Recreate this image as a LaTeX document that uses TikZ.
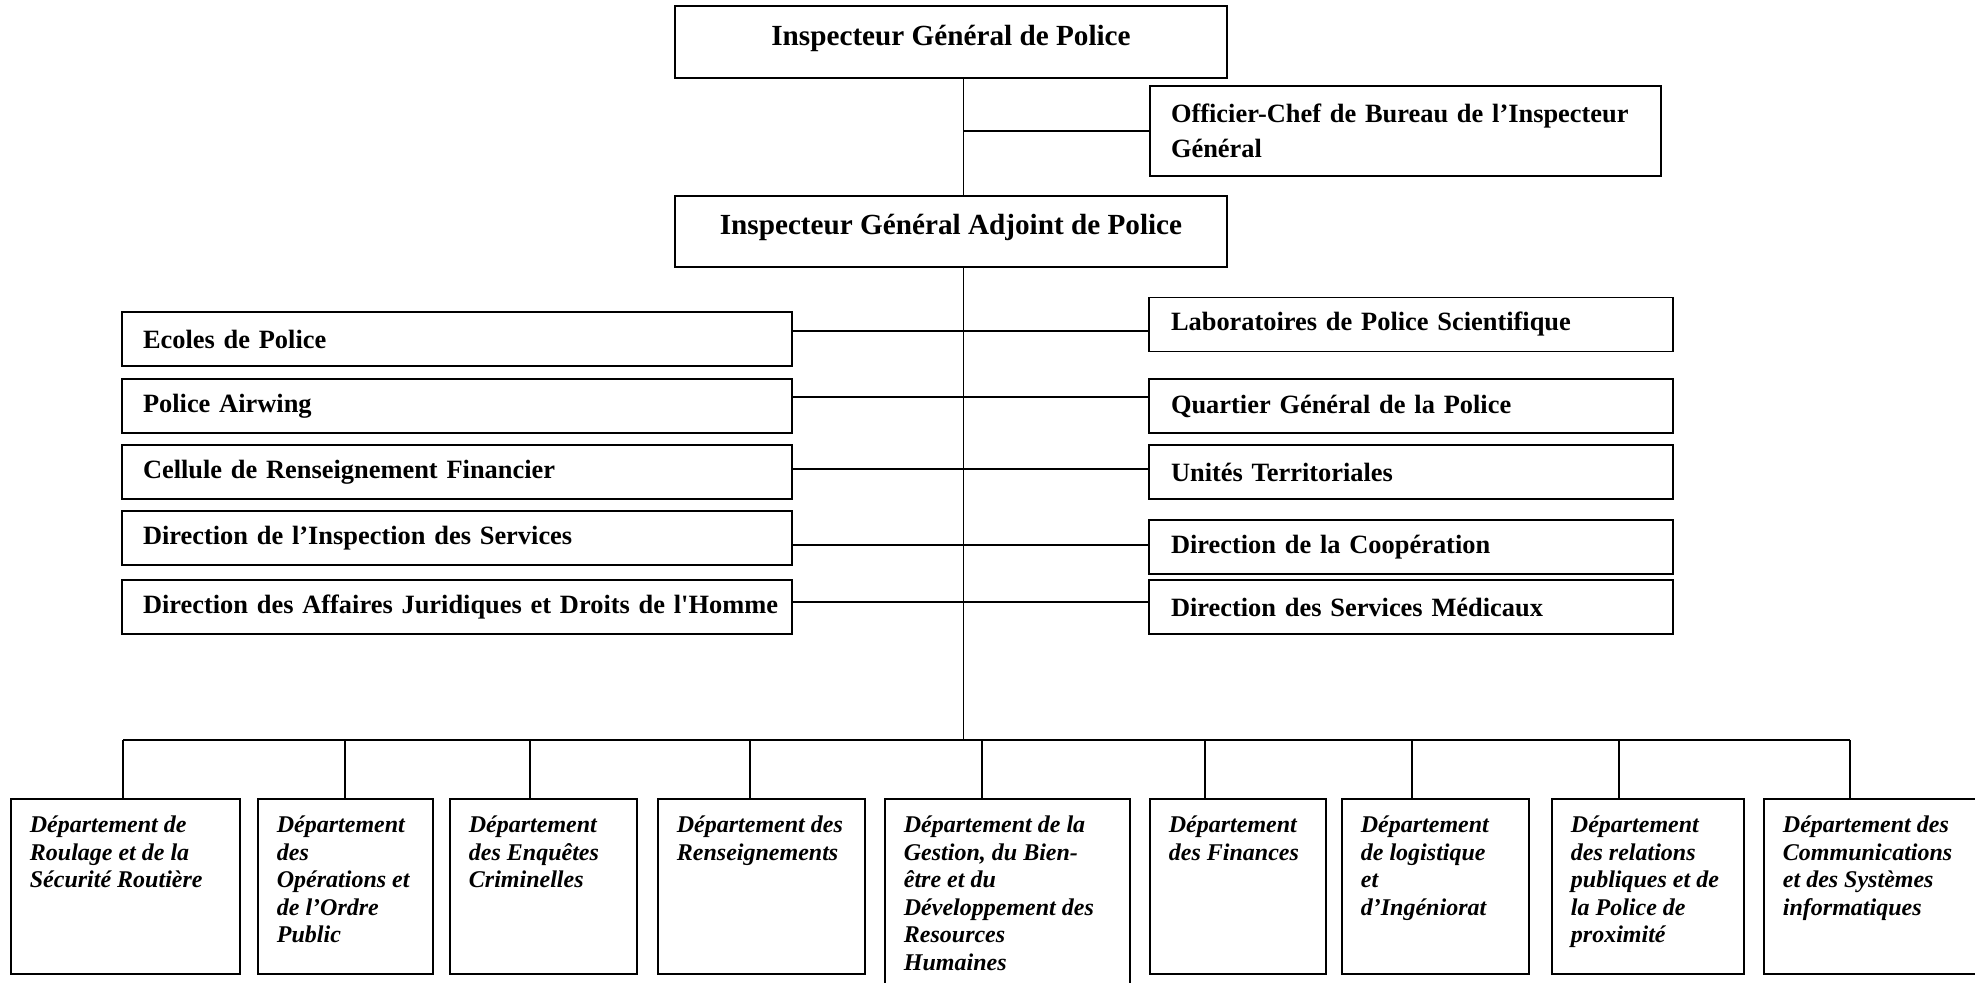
\documentclass[tikz,border=0pt]{standalone}
\usepackage{fontspec}
\setmainfont{Liberation Serif}[Ligatures=TeXOff]
\begin{document}
\begin{tikzpicture}[
    x=0.5pt, y=-0.5pt,
    chefbox/.style={draw, line width=0.9pt, minimum width=276pt, minimum height=36pt,
      inner sep=0pt, text depth=7pt, font=\fontsize{14.6}{17}\selectfont\bfseries},
    bureaubox/.style={draw, line width=0.9pt, minimum height=45pt, inner xsep=10.5pt,
      text width=234.5pt, align=left, font=\fontsize{13.2}{17.5}\selectfont\bfseries},
    gauchebox/.style={draw, line width=0.9pt, minimum height=27pt, inner xsep=10.5pt,
      text width=314pt, align=left, font=\fontsize{13.2}{16}\selectfont\bfseries},
    droitebox/.style={draw, line width=0.9pt, minimum height=27pt, inner xsep=11pt,
      text width=240pt, align=left, font=\fontsize{13.2}{16}\selectfont\bfseries},
    deptbox/.style={draw, line width=0.9pt, anchor=north west, inner xsep=9.5pt,
      inner ysep=8.5pt, font=\fontsize{12}{13.75}\selectfont\bfseries\itshape},
    lien/.style={line width=0.7pt}
  ]
  \useasboundingbox (0,0) rectangle (1975,982);
  % direction generale
  \node[chefbox] (igp) at (951,42) {Inspecteur Général de Police};
  \node[bureaubox] (bureau) at (1405.5,131) {Officier-Chef de Bureau de l’Inspecteur\\Général};
  \node[chefbox, minimum height=35.5pt] (igap) at (951,231.5) {Inspecteur Général Adjoint de Police};
  \coordinate (spine) at (963.5,740);
  \draw[lien] (igp.south -| spine) -- (igap.north -| spine);
  \draw[lien] (spine |- bureau.west) -- (bureau.west);
  \draw[lien] (igap.south -| spine) -- (spine);
  % services rattaches
  \foreach \i/\y/\txt in {%
    1/339/Ecoles de Police,
    2/406/Police Airwing,
    3/472/Cellule de Renseignement Financier,
    4/538/Direction de l’Inspection des Services,
    5/607/Direction des Affaires Juridiques et Droits de l'Homme%
  }{
    \node[gauchebox] (g\i) at (457,\y) {\mbox{\txt}};
  }
  \foreach \i/\y/\txt in {%
    1/324.5/Laboratoires de Police Scientifique,
    2/406/Quartier Général de la Police,
    3/472/Unités Territoriales,
    4/547/Direction de la Coopération,
    5/607/Direction des Services Médicaux%
  }{
    \node[droitebox] (r\i) at (1411,\y) {\mbox{\txt}};
  }
  \foreach \i/\y in {1/331, 2/397, 3/469, 4/545, 5/602}
    \draw[lien] (g\i.east |- 0,\y) -- (r\i.west |- 0,\y);
  % departements
  \draw[lien] (spine -| 123,0) -- (spine -| 1850,0);
  \foreach \i/\xl/\xr/\xd/\h/\txt in {%
    1/10/239/123/175/{Département de\\Roulage et de la\\Sécurité Routière},
    2/257/432/345/175/{Département\\des\\Opérations et\\de l’Ordre\\Public},
    3/449/636/530/175/{Département\\des Enquêtes\\Criminelles},
    4/657/864/750/175/{Département des\\Renseignements},
    5/884/1129/982/215/{Département de la\\Gestion, du Bien-\\être et du\\Développement des\\Resources\\Humaines},
    6/1149/1325/1205/175/{Département\\des Finances},
    7/1341/1528/1412/175/{Département\\de logistique\\et\\d’Ingéniorat},
    8/1551/1743/1619/175/{Département\\des relations\\publiques et de\\la Police de\\proximité},
    9/1763/1985/1850/175/{Département des\\Communications\\et des Systèmes\\informatiques}%
  }{
    \pgfmathsetmacro\tw{(\xr-\xl-38)/2}
    \pgfmathsetmacro\th{(\h-34)/2}
    \node[deptbox] (d\i) at (\xl,798) {\parbox[t][\th pt][t]{\tw pt}{\raggedright\txt}};
    \draw[lien] (d\i.north -| \xd,0) -- (spine -| \xd,0);
  }
\end{tikzpicture}
\end{document}
